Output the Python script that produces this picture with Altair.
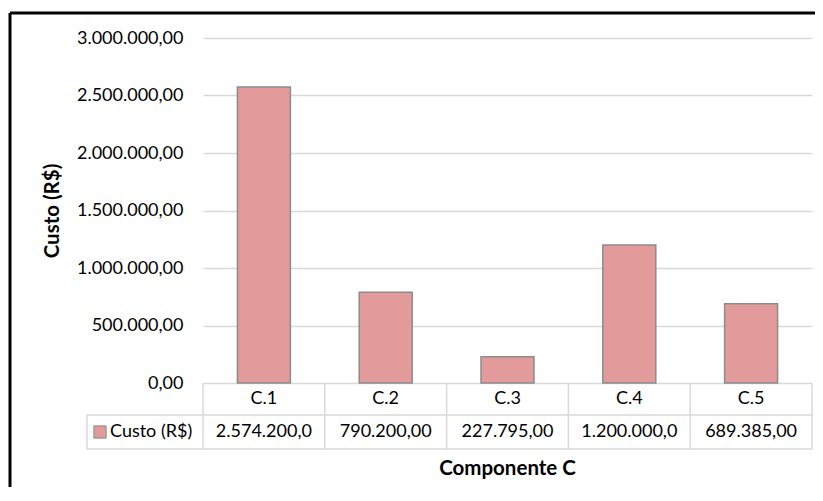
import altair as alt
import pandas as pd

categories = ["C.1", "C.2", "C.3", "C.4", "C.5"]
values = [2574200, 790200, 227795, 1200000, 689385]
table_labels = ["2.574.200,0", "790.200,00", "227.795,00", "1.200.000,0", "689.385,00"]
y_ticks = [0, 500000, 1000000, 1500000, 2000000, 2500000, 3000000]
series_name = "Custo (R$)"
x_title = "Componente C"

FONT = "Lato"
FS = 18
FS_TAB = 18
FS_TITLE = 20.5
BAR_FILL = "#E29A9B"
BAR_STROKE = "#8C8C8C"
LINE = "#D9D9D9"

df = pd.DataFrame({"cat": categories, "value": values, "label": table_labels})
one = pd.DataFrame({"k": [0]})

W, H = 609, 345

xscale = alt.Scale(domain=categories, paddingInner=0, paddingOuter=0)
xenc = alt.X("cat:N", sort=categories, scale=xscale, axis=None)

bars = alt.Chart(df).mark_bar(
    width=alt.RelativeBandSize(0.435), fill=BAR_FILL, stroke=BAR_STROKE, strokeWidth=1.5
).encode(
    x=xenc,
    y=alt.Y(
        "value:Q",
        scale=alt.Scale(domain=[0, 3000000], nice=False),
        axis=alt.Axis(
            values=y_ticks, format=",.2f", labelFont=FONT, labelFontSize=FS, labelColor="#000000",
            labelPadding=20, ticks=False, domain=False, gridColor=LINE, gridWidth=1.5,
            title=series_name, titleFont=FONT, titleFontSize=FS_TITLE, titleFontWeight="bold",
            titleColor="#000000", titleAngle=270, titleX=-151, titleY=H / 2,
            titleAlign="center", titleBaseline="middle",
        ),
    ),
)

header = alt.Chart(df).mark_text(font=FONT, fontSize=FS_TAB, color="#000000", baseline="middle").encode(
    x=xenc, y=alt.value(H + 16), text="cat:N"
)
vals = alt.Chart(df).mark_text(font=FONT, fontSize=FS_TAB, color="#000000", baseline="middle").encode(
    x=xenc, y=alt.value(H + 49), text="label:N"
)
vlines = alt.Chart(df).mark_rule(color=LINE, strokeWidth=1.5).encode(
    x=alt.X("cat:N", sort=categories, scale=xscale, axis=None, bandPosition=0),
    y=alt.value(H), y2=alt.value(H + 66),
)

def rule(x, x2, y, y2, color=LINE, sw=1.5):
    return alt.Chart(one).mark_rule(color=color, strokeWidth=sw).encode(
        x=alt.value(x), x2=alt.value(x2), y=alt.value(y), y2=alt.value(y2)
    )

table_rules = [
    rule(W, W, H, H + 66),
    rule(-116, -116, H + 32, H + 66),
    rule(-116, W, H + 32, H + 32),
    rule(-116, W, H + 66, H + 66),
]

swatch = alt.Chart(one).mark_point(
    shape="square", filled=True, fill=BAR_FILL, stroke=BAR_STROKE, strokeWidth=1, size=150, opacity=1
).encode(x=alt.value(-103), y=alt.value(H + 49))

legend_text = alt.Chart(one).mark_text(
    font=FONT, fontSize=FS_TAB, color="#000000", align="left", baseline="middle"
).encode(x=alt.value(-93), y=alt.value(H + 49), text=alt.value(series_name))

xtitle = alt.Chart(one).mark_text(
    font=FONT, fontSize=FS_TITLE, fontWeight="bold", color="#000000", baseline="middle"
).encode(x=alt.value(W / 2), y=alt.value(H + 86), text=alt.value(x_title))

border = [
    rule(-193, W + 10, -25, -25, "#000000", 3),
    rule(-193, -193, -25, H + 120, "#000000", 3),
]

chart = alt.layer(
    bars, vlines, *table_rules, header, vals, swatch, legend_text, xtitle, *border
).properties(
    width=W, height=H,
    autosize=alt.AutoSizeParams(type="none"),
    padding={"left": 195, "top": 30, "right": 3, "bottom": 104},
).configure(
    locale={"number": {"decimal": ",", "thousands": ".", "grouping": [3], "currency": ["R$", ""]}}
).configure_view(strokeWidth=0)

chart.save("out.html", embed_options={"renderer": "svg", "actions": False})
